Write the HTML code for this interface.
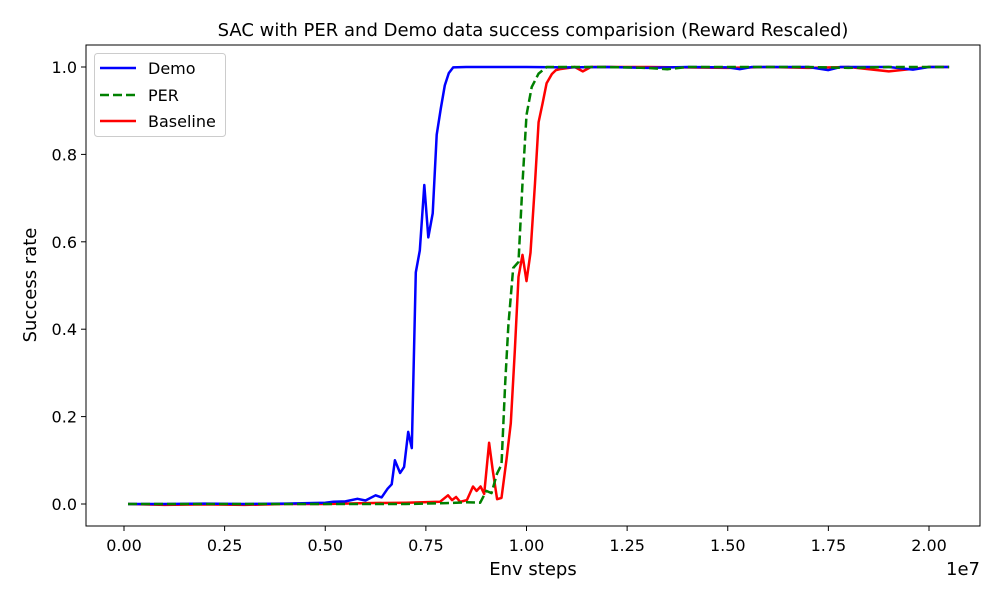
<!DOCTYPE html>
<html><head><meta charset="utf-8"><style>
body{margin:0;background:#fff;font-family:"DejaVu Sans","Liberation Sans",sans-serif}
text{font-family:"DejaVu Sans","Liberation Sans",sans-serif;fill:#000}
</style></head><body>
<svg id="chart" width="1000" height="600" xmlns="http://www.w3.org/2000/svg">
<rect x="0" y="0" width="1000" height="600" fill="#fff"/>
<text x="533" y="36" font-size="18" text-anchor="middle">SAC with PER and Demo data success comparision (Reward Rescaled)</text>
<g id="plot"></g>
<rect x="86" y="45" width="894" height="481" fill="none" stroke="#000" stroke-width="1"/>
<g id="ticks"></g>
<text x="533" y="575" font-size="18" text-anchor="middle">Env steps</text>
<text x="980" y="575" font-size="18" text-anchor="end">1e7</text>
<text transform="translate(36,285) rotate(-90)" font-size="18" text-anchor="middle">Success rate</text>
<g>
<rect x="94.5" y="53.5" width="131" height="83" rx="3" fill="#fff" fill-opacity="0.8" stroke="#ccc"/>
<line x1="100" y1="68" x2="136" y2="68" stroke="#0000ff" stroke-width="2.5"/>
<text x="148" y="74" font-size="16">Demo</text>
<line x1="100" y1="95" x2="136" y2="95" stroke="#008000" stroke-width="2.5" stroke-dasharray="9,4"/>
<text x="148" y="101" font-size="16">PER</text>
<line x1="100" y1="121" x2="136" y2="121" stroke="#ff0000" stroke-width="2.5"/>
<text x="148" y="127" font-size="16">Baseline</text>
</g>
</svg>
<script>
const xTicks=[0,0.25,0.5,0.75,1.0,1.25,1.5,1.75,2.0];
const xTickLabels=["0.00","0.25","0.50","0.75","1.00","1.25","1.50","1.75","2.00"];
const yTicks=[0,0.2,0.4,0.6,0.8,1.0];
const yTickLabels=["0.0","0.2","0.4","0.6","0.8","1.0"];
const demoX=[0.01,0.1,0.2,0.3,0.4,0.5,0.52,0.55,0.58,0.6,0.625,0.64,0.655,0.665,0.673,0.686,0.696,0.706,0.715,0.725,0.735,0.746,0.756,0.767,0.777,0.787,0.797,0.807,0.818,0.85,0.9,1.0,1.1,1.2,1.3,1.4,1.5,1.53,1.56,1.7,1.75,1.78,1.9,1.96,2.0,2.05];
const demoY=[0,0,0.001,0,0.001,0.003,0.005,0.006,0.012,0.008,0.02,0.015,0.035,0.045,0.1,0.071,0.085,0.165,0.128,0.53,0.58,0.73,0.61,0.665,0.845,0.905,0.958,0.986,0.999,1.0,1.0,1.0,0.999,1.0,0.998,1.0,0.999,0.995,1.0,1.0,0.993,1.0,1.0,0.994,1.0,1.0];
const perX=[0.01,0.1,0.2,0.3,0.4,0.5,0.6,0.7,0.8,0.85,0.885,0.9,0.913,0.927,0.938,0.947,0.955,0.967,0.98,0.99,1.0,1.013,1.03,1.05,1.1,1.2,1.3,1.35,1.4,1.5,1.6,1.7,1.8,1.9,2.0,2.05];
const perY=[0,0,0,0,0,0,0,0,0.002,0.004,0.003,0.03,0.025,0.07,0.09,0.277,0.41,0.54,0.554,0.734,0.89,0.954,0.985,1.0,1.0,1.0,0.998,0.995,1.0,1.0,1.0,1.0,0.998,1.0,1.0,1.0];
const baseX=[0.01,0.1,0.2,0.3,0.4,0.5,0.6,0.7,0.785,0.805,0.815,0.825,0.835,0.852,0.867,0.876,0.886,0.895,0.907,0.916,0.927,0.938,0.95,0.961,0.971,0.98,0.99,1.0,1.01,1.021,1.03,1.04,1.05,1.063,1.073,1.083,1.12,1.14,1.16,1.3,1.5,1.6,1.7,1.8,1.9,1.95,2.0,2.05];
const baseY=[0,-0.002,-0.001,-0.002,0,0,0.002,0.003,0.005,0.02,0.009,0.016,0.005,0.009,0.04,0.03,0.04,0.023,0.14,0.078,0.011,0.014,0.1,0.185,0.35,0.52,0.57,0.51,0.575,0.734,0.874,0.917,0.963,0.984,0.993,0.995,1.0,0.99,1.0,1.0,0.998,1.0,0.998,1.0,0.99,0.995,1.0,1.0];
const NS="http://www.w3.org/2000/svg";
function sx(v){return 124+v*402.5;}
function sy(v){return 504-v*437;}
const plot=document.getElementById('plot');
function line(xs,ys,color,dash,name){
  const p=document.createElementNS(NS,'polyline');
  p.setAttribute('points',xs.map((x,i)=>sx(x).toFixed(1)+','+sy(ys[i]).toFixed(1)).join(' '));
  p.setAttribute('fill','none');p.setAttribute('stroke',color);p.setAttribute('stroke-width','2.5');
  p.setAttribute('stroke-linejoin','round');
  if(dash)p.setAttribute('stroke-dasharray',dash);
  
  
  plot.appendChild(p);
}
line(baseX,baseY,'#ff0000',null,'baseline-line');
line(demoX,demoY,'#0000ff',null,'demo-line');
line(perX,perY,'#008000','9,4','per-line');
const tg=document.getElementById('ticks');
xTicks.forEach((v,i)=>{
  const l=document.createElementNS(NS,'line');
  l.setAttribute('x1',sx(v));l.setAttribute('x2',sx(v));l.setAttribute('y1',526);l.setAttribute('y2',531);l.setAttribute('stroke','#000');
  
  
  tg.appendChild(l);
  const t=document.createElementNS(NS,'text');
  t.setAttribute('x',sx(v));t.setAttribute('y',551);t.setAttribute('font-size','16');t.setAttribute('text-anchor','middle');
  t.textContent=xTickLabels[i];
  
  
  tg.appendChild(t);
});
yTicks.forEach((v,i)=>{
  const l=document.createElementNS(NS,'line');
  l.setAttribute('x1',81);l.setAttribute('x2',86);l.setAttribute('y1',sy(v));l.setAttribute('y2',sy(v));l.setAttribute('stroke','#000');
  
  
  tg.appendChild(l);
  const t=document.createElementNS(NS,'text');
  t.setAttribute('x',77);t.setAttribute('y',sy(v)+6);t.setAttribute('font-size','16');t.setAttribute('text-anchor','end');
  t.textContent=yTickLabels[i];
  
  
  tg.appendChild(t);
});
</script>
</body></html>
